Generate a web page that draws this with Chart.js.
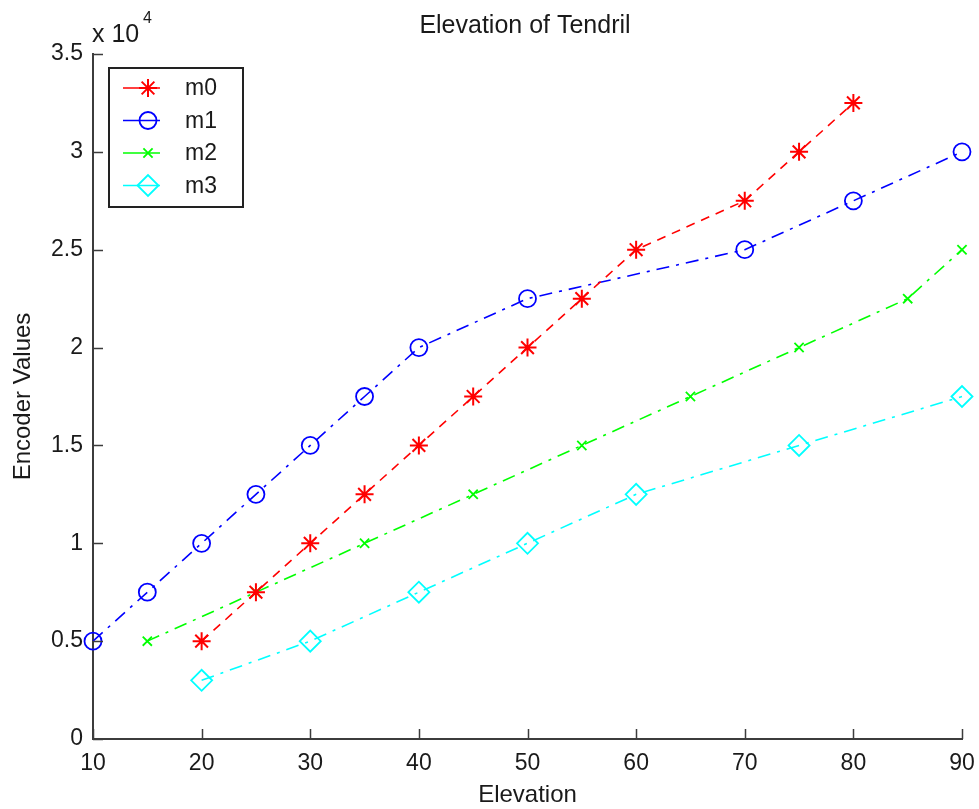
<!DOCTYPE html>
<html>
<head>
<meta charset="utf-8">
<title>Elevation of Tendril</title>
<script src="https://cdn.jsdelivr.net/npm/chart.js@4.4.1/dist/chart.umd.min.js"></script>
<style>
  html, body { margin: 0; padding: 0; background: #fff; }
  #wrap { width: 979px; height: 809px; }
</style>
</head>
<body>
<div id="wrap"><canvas id="tendrilChart" width="979" height="809"></canvas></div>
<script>
// Encoder readings per motor, against elevation
const elevM0 = [20, 25, 30, 35, 40, 45, 50, 55, 60, 70, 75, 80];
const encM0 = [5000, 7500, 10000, 12500, 15000, 17500, 20000, 22500, 25000, 27500, 30000, 32500];

const elevM1 = [10, 15, 20, 25, 30, 35, 40, 50, 70, 80, 90];
const encM1 = [5000, 7500, 10000, 12500, 15000, 17500, 20000, 22500, 25000, 27500, 30000];

const elevM2 = [15, 25, 35, 45, 55, 65, 75, 85, 90];
const encM2 = [5000, 7500, 10000, 12500, 15000, 17500, 20000, 22500, 25000];

const elevM3 = [20, 30, 40, 50, 60, 75, 90];
const encM3 = [3000, 5000, 7500, 10000, 12500, 15000, 17500];

const seriesNames = ['m0', 'm1', 'm2', 'm3'];
const xTicks = [10, 20, 30, 40, 50, 60, 70, 80, 90];
const yTicks = [0, 5000, 10000, 15000, 20000, 25000, 30000, 35000];

const FONT = '"Liberation Sans", Arial, Helvetica, sans-serif';
const TEXT = '#1a1a1a';
const AXIS = '#3c3c3c';

function toPoints(xs, ys) {
  return xs.map((x, i) => ({ x: x, y: ys[i] }));
}

const dashLine = [9, 7];
const dashDot = [13, 7, 3, 7];

const datasets = [
  { label: seriesNames[0], data: toPoints(elevM0, encM0), borderColor: '#ff0000', borderDash: dashLine,
    pointStyle: 'star', pointRadius: 9, pointBorderWidth: 2, pointBorderColor: '#ff0000', pointBackgroundColor: '#ff0000' },
  { label: seriesNames[1], data: toPoints(elevM1, encM1), borderColor: '#0000ff', borderDash: dashDot,
    pointStyle: 'circle', pointRadius: 8.5, pointBorderWidth: 1.8, pointBorderColor: '#0000ff', pointBackgroundColor: 'rgba(0,0,0,0)' },
  { label: seriesNames[2], data: toPoints(elevM2, encM2), borderColor: '#00ff00', borderDash: dashDot,
    pointStyle: 'crossRot', pointRadius: 6.5, pointBorderWidth: 1.8, pointBorderColor: '#00ff00', pointBackgroundColor: '#00ff00' },
  { label: seriesNames[3], data: toPoints(elevM3, encM3), borderColor: '#00ffff', borderDash: dashDot,
    pointStyle: 'rectRot', pointRadius: 10.5, pointBorderWidth: 1.8, pointBorderColor: '#00ffff', pointBackgroundColor: 'rgba(0,0,0,0)' },
].map(ds => Object.assign(ds, {
  borderWidth: 1.6,
  pointHoverRadius: ds.pointRadius,
  tension: 0,
  fill: false,
  clip: false,
}));

// inward tick marks, title, exponent label and the boxed legend
const matlabDecor = {
  id: 'matlabDecor',
  afterDraw(chart) {
    const ctx = chart.ctx;
    const area = chart.chartArea;
    const xs = chart.scales.x;
    const ys = chart.scales.y;

    ctx.save();
    ctx.strokeStyle = AXIS;
    ctx.lineWidth = 1.5;
    ctx.beginPath();
    xTicks.forEach(v => {
      const px = Math.round(xs.getPixelForValue(v)) + 0.5;
      ctx.moveTo(px, area.bottom);
      ctx.lineTo(px, area.bottom - 10);
    });
    yTicks.forEach(v => {
      const py = Math.round(ys.getPixelForValue(v)) + 0.5;
      ctx.moveTo(area.left, py);
      ctx.lineTo(area.left + 10, py);
    });
    ctx.stroke();

    ctx.fillStyle = TEXT;
    ctx.textBaseline = 'alphabetic';
    ctx.textAlign = 'center';
    ctx.font = '25px ' + FONT;
    ctx.fillText('Elevation of Tendril', 525, 33);

    ctx.textAlign = 'left';
    ctx.font = '25px ' + FONT;
    ctx.fillText('x 10', 92, 42);
    ctx.font = '16px ' + FONT;
    ctx.fillText('4', 143, 23);

    // legend box
    const box = { x: 109, y: 68, w: 134, h: 139 };
    ctx.fillStyle = '#fff';
    ctx.fillRect(box.x, box.y, box.w, box.h);
    ctx.lineWidth = 2;
    ctx.strokeStyle = '#222';
    ctx.strokeRect(box.x, box.y, box.w, box.h);

    chart.data.datasets.forEach((ds, i) => {
      const rowY = 88 + i * 32.5;
      ctx.setLineDash([]);
      ctx.strokeStyle = ds.borderColor;
      ctx.lineWidth = 1.6;
      ctx.beginPath();
      ctx.moveTo(123, rowY);
      ctx.lineTo(160, rowY);
      ctx.stroke();

      ctx.strokeStyle = ds.pointBorderColor;
      ctx.fillStyle = ds.pointBackgroundColor;
      ctx.lineWidth = ds.pointBorderWidth;
      Chart.helpers.drawPoint(ctx, {
        pointStyle: ds.pointStyle,
        radius: ds.pointRadius,
        rotation: 0,
        borderWidth: ds.pointBorderWidth,
      }, 148, rowY);

      ctx.fillStyle = TEXT;
      ctx.font = '23px ' + FONT;
      ctx.textAlign = 'left';
      ctx.textBaseline = 'middle';
      ctx.fillText(ds.label, 185, rowY + 1);
    });
    ctx.restore();
  }
};

const ctx = document.getElementById('tendrilChart').getContext('2d');
new Chart(ctx, {
  type: 'line',
  data: { datasets: datasets },
  options: {
    responsive: false,
    animation: false,
    events: [],
    layout: { padding: { top: 54, right: 17, left: 0, bottom: 0 } },
    plugins: {
      legend: { display: false },
      tooltip: { enabled: false },
      title: { display: false },
    },
    scales: {
      x: {
        type: 'linear',
        min: 10,
        max: 90,
        afterFit: scale => {
          scale.height = 70;
          scale.paddingLeft = 0;
          scale.paddingRight = 0;
        },
        afterBuildTicks: scale => { scale.ticks = xTicks.map(v => ({ value: v })); },
        grid: { display: true, drawOnChartArea: false, drawTicks: false },
        border: { display: true, color: AXIS, width: 2 },
        ticks: {
          padding: 11,
          color: TEXT,
          font: { family: FONT, size: 23 },
          maxRotation: 0,
        },
        title: {
          display: true,
          text: 'Elevation',
          color: TEXT,
          font: { family: FONT, size: 24, lineHeight: 1.1 },
          padding: { top: 0, bottom: 0 },
        },
      },
      y: {
        type: 'linear',
        min: 0,
        max: 35000,
        afterFit: scale => {
          scale.width = 93;
          scale.paddingTop = 0;
          scale.paddingBottom = 0;
        },
        afterBuildTicks: scale => { scale.ticks = yTicks.map(v => ({ value: v })); },
        grid: { display: true, drawOnChartArea: false, drawTicks: false },
        border: { display: true, color: AXIS, width: 2 },
        ticks: {
          padding: 10,
          color: TEXT,
          font: { family: FONT, size: 23 },
          callback: v => String(v / 10000),
        },
        title: {
          display: true,
          text: 'Encoder Values',
          color: TEXT,
          font: { family: FONT, size: 24 },
          padding: { top: 9, bottom: 0 },
        },
      },
    },
  },
  plugins: [matlabDecor],
});
</script>
</body>
</html>
